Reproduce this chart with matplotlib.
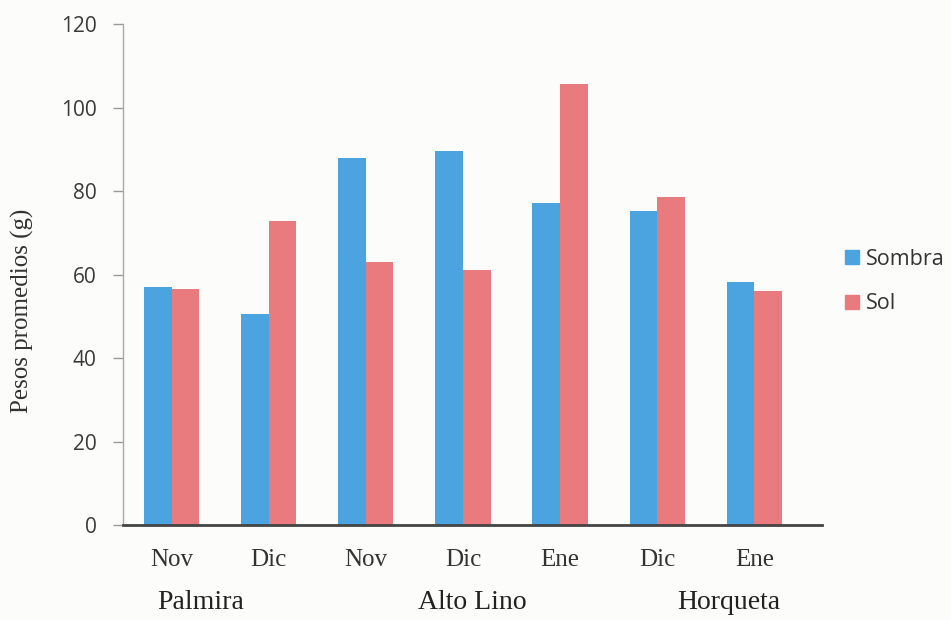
import numpy as np
import matplotlib
matplotlib.use("Agg")
import matplotlib.pyplot as plt
from matplotlib.patches import Patch

# data
months = ["Nov", "Dic", "Nov", "Dic", "Ene", "Dic", "Ene"]
sites = ["Palmira", "Alto Lino", "Horqueta"]
sombra = [57.0, 50.5, 87.8, 89.5, 77.1, 75.2, 58.2]
sol = [56.5, 72.8, 63.0, 61.1, 105.6, 78.6, 56.0]

blue = "#4ba3df"
pink = "#e97a7d"
bg = "#fcfcfa"

fig = plt.figure(figsize=(9.51, 6.2), dpi=100, facecolor=bg)
ax = fig.add_axes([0.1293, 0.1532, 0.715, 0.808], facecolor=bg)

x = np.arange(len(months))
w = 0.285
ax.bar(x - w/2, sombra, w, color=blue, label="Sombra")
ax.bar(x + w/2, sol, w, color=pink, label="Sol")

ax.set_xlim(-0.5, len(months) - 0.5)
ax.set_ylim(0, 120)
ax.set_yticks(range(0, 121, 20))
ax.tick_params(axis="y", direction="out", length=7, color="#999999", width=1,
               labelsize=15, labelcolor="#3a3a3a", pad=12)
for lbl in ax.get_yticklabels():
    lbl.set_fontfamily("Open Sans")

ax.set_xticks(x)
ax.set_xticklabels(months, fontfamily="Liberation Serif", fontsize=18, color="#333333")
ax.tick_params(axis="x", length=0, pad=17)

ax.spines["top"].set_visible(False)
ax.spines["right"].set_visible(False)
ax.spines["left"].set_color("#aaaaaa")
ax.spines["left"].set_linewidth(1)
ax.spines["bottom"].set_color("#444444")
ax.spines["bottom"].set_linewidth(2)
ax.spines["bottom"].set_bounds(-0.5, 6.7)
ax.spines["bottom"].set_clip_on(False)

# site labels under the months
site_pos = [0.3, 3.1, 5.74]
for s, p in zip(sites, site_pos):
    ax.text(p, -0.155, s, transform=ax.get_xaxis_transform(), ha="center", va="center",
            fontfamily="Liberation Serif", fontsize=20, color="#222222")

fig.text(22/951, 1 - 311/620, "Pesos promedios (g)", rotation=90, ha="center", va="center",
         fontfamily="Liberation Serif", fontsize=18, color="#333333")

handles = [Patch(color=blue), Patch(color=pink)]
fig.legend(handles, ["Sombra", "Sol"], loc="center left", bbox_to_anchor=(0.868, 0.546),
           frameon=False, prop={"family": "Open Sans", "size": 15.5},
           handlelength=0.66, handleheight=0.66, handletextpad=0.3, labelspacing=1.1,
           labelcolor="#333333")

plt.savefig("out.png", dpi=100, facecolor=bg)
